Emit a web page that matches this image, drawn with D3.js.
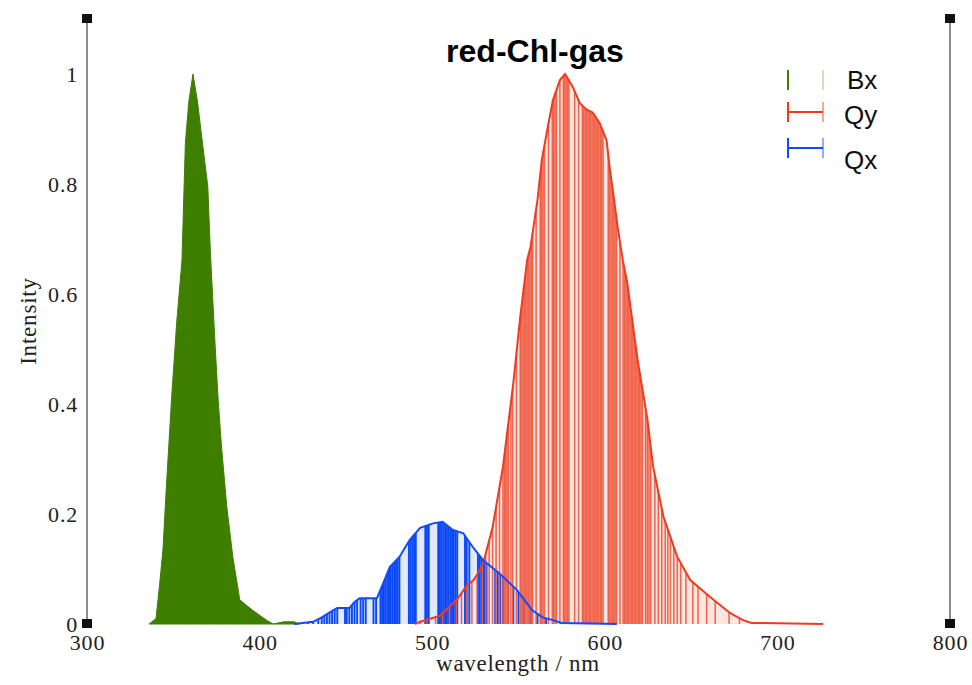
<!DOCTYPE html>
<html>
<head>
<meta charset="utf-8">
<script src="https://cdn.jsdelivr.net/npm/d3@7"></script>
<style>
  html, body { margin: 0; padding: 0; background: #fff; }
  svg { display: block; }
</style>
</head>
<body>
<svg id="chart" width="972" height="685"></svg>
<script>
// Tick values and labels
const wavelengthTicks = [300, 400, 500, 600, 700, 800];
const intensityTicks = [0, 0.2, 0.4, 0.6, 0.8, 1];
const intensityTickLabels = ["0", "0.2", "0.4", "0.6", "0.8", "1"];

// Band envelopes: [wavelength nm, intensity]
const bxEnvelope = [
  [336, 0], [340, 0.01], [342, 0.07], [344, 0.135], [346, 0.25], [349, 0.41],
  [352, 0.55], [355, 0.66], [357, 0.875], [359, 0.95], [361.4, 1.0], [364, 0.95],
  [366.5, 0.885], [370, 0.795], [371.5, 0.675], [374, 0.52], [376, 0.407],
  [378, 0.32], [381, 0.213], [384.5, 0.122], [388.5, 0.044], [392, 0.035],
  [396, 0.025], [404, 0.007], [408, 0], [414, 0.004], [420, 0.004], [423, 0]
];
const qyEnvelope = [
  [490, 0], [493, 0.004], [504.5, 0.015], [514.5, 0.045], [520, 0.07], [524, 0.08],
  [528, 0.1], [529.5, 0.11], [535, 0.176], [541, 0.286], [547, 0.438], [551, 0.558],
  [555, 0.662], [557, 0.686], [561, 0.771], [563.5, 0.844], [567, 0.904], [570, 0.953],
  [574, 0.989], [577, 1.0], [581.5, 0.976], [585.5, 0.947], [589.5, 0.935], [593, 0.93],
  [597, 0.911], [601, 0.88], [603, 0.825], [605, 0.78], [607.5, 0.72], [610.5, 0.66],
  [613, 0.62], [619, 0.48], [624.5, 0.376], [628, 0.286], [634, 0.195], [642, 0.122],
  [649.5, 0.08], [661, 0.049], [672.5, 0.02], [680, 0.007], [685, 0.002], [726.5, 0]
];
const qxEnvelope = [
  [420, 0], [431, 0.004], [436, 0.012], [442.5, 0.025], [445, 0.029], [452, 0.029],
  [455, 0.04], [458, 0.047], [468, 0.047], [470, 0.062], [475.5, 0.104], [481, 0.122],
  [487, 0.153], [493, 0.175], [500.5, 0.183], [506, 0.186], [512, 0.171], [518, 0.165],
  [523.5, 0.14], [529.5, 0.116], [539, 0.092], [549, 0.062], [558, 0.025], [564, 0.012],
  [570, 0.007], [575, 0.002], [607, 0]
];

// Stick transition wavelengths (nm)
const qySticks = [
  473, 480, 487, 493, 497, 502, 506, 510, 514, 517, 520, 523, 526, 529, 531, 533, 535, 537, 539,
  541, 541.8, 542.6, 543.4, 544.2, 545.6, 546.6, 548.8,
  551, 551.8, 552.6, 553.4, 554.2, 555, 555.8, 556.6, 557.4, 558.2, 560.2,
  562.6, 563.4, 564.2, 565, 567.4, 569.6, 570.4, 571.2, 572, 574,
  576, 576.8, 577.6, 578.4, 579.2, 582.5, 584.8,
  587, 587.8, 588.6, 589.4, 590.2, 591, 591.8, 592.6, 593.4, 594.2, 595, 595.8,
  596.6, 597.4, 598.2, 599,
  602, 602.8, 603.6, 604.4, 605.2, 606, 606.8, 608.8,
  610.6, 611.4, 612.2, 613, 613.8, 614.6, 615.4, 616.2, 617, 617.8, 618.6, 619.4,
  620.2, 621, 621.8, 623.6, 624.6, 625.6, 626.6,
  629, 631, 633, 635, 636.5, 638, 640, 642, 644, 647, 651, 654, 659, 664, 672, 678
];
const qxSticks = [
  428, 431, 434, 436, 437.5, 439, 440.5, 442, 443.5, 445, 449.5, 450.5, 452, 453.5,
  455, 456.5, 458.5, 460, 461.5, 466, 467.5, 470, 471, 472, 473, 474, 475, 476, 477,
  478, 479, 480, 481, 486.5, 487.5, 488.5, 489.5, 490.5, 496, 497, 498,
  503.5, 504.5, 505.5, 506.5, 507.5, 508.5, 509.5, 510.5, 511.5, 512.5, 513.5, 514.5,
  519, 520, 521.5, 526.5, 527.5, 528.5, 529.5, 530.5, 531.5, 536.5, 538, 539.5,
  541, 544, 547, 550, 553, 557, 561, 566
];

const legendLabels = ["Bx", "Qy", "Qx"];
const titleText = "red-Chl-gas";

const svg = d3.select("#chart");

const x = d3.scaleLinear().domain([300, 800]).range([87, 950]);
const y = d3.scaleLinear().domain([0, 1.1]).range([624, 19]);

const area = d3.area().x(d => x(d[0])).y0(y(0)).y1(d => y(d[1]));
const line = d3.line().x(d => x(d[0])).y(d => y(d[1]));

// Side frame lines with square end markers
[800, 300].forEach(v => {
  svg.append("line")
    .attr("x1", x(v)).attr("x2", x(v))
    .attr("y1", y(1.1)).attr("y2", y(0))
    .attr("stroke", "#8c8c8c").attr("stroke-width", 2);
  [1.1, 0].forEach(t => {
    svg.append("rect")
      .attr("x", x(v) - 5).attr("y", y(t) - 5)
      .attr("width", 10).attr("height", 9)
      .attr("fill", "#111");
  });
});

// Bx: solid filled band
svg.append("path").datum(bxEnvelope)
  .attr("d", area)
  .attr("fill", "#3e7f02")
  .attr("stroke", "#3e7f02").attr("stroke-width", 1);

// Clip regions for the stick spectra
const defs = svg.append("defs");
defs.append("clipPath").attr("id", "clip-qy")
  .append("path").datum(qyEnvelope).attr("d", area);
defs.append("clipPath").attr("id", "clip-qx")
  .append("path").datum(qxEnvelope).attr("d", area);

// Light fills under each band
svg.append("path").datum(qyEnvelope)
  .attr("d", area).attr("fill", "#fde6e1");
svg.append("path").datum(qxEnvelope)
  .attr("d", area).attr("fill", "#dfe7ff").attr("fill-opacity", 0.9);

// Stick lines, clipped to their envelopes
svg.append("g").attr("clip-path", "url(#clip-qx)")
  .selectAll("line").data(qxSticks).join("line")
  .attr("x1", d => x(d)).attr("x2", d => x(d))
  .attr("y1", y(0)).attr("y2", y(1.1))
  .attr("stroke", "#0b48f6").attr("stroke-width", 1.9);

svg.append("g").attr("clip-path", "url(#clip-qy)")
  .selectAll("line").data(qySticks).join("line")
  .attr("x1", d => x(d)).attr("x2", d => x(d))
  .attr("y1", y(0)).attr("y2", y(1.1))
  .attr("stroke", "#ef5a40").attr("stroke-width", 1.55).attr("stroke-opacity", 0.92);

// Envelope outlines
svg.append("path").datum(qyEnvelope)
  .attr("d", line).attr("fill", "none")
  .attr("stroke", "#ee3b20").attr("stroke-width", 2);
svg.append("path").datum(qxEnvelope)
  .attr("d", line).attr("fill", "none")
  .attr("stroke", "#1149ff").attr("stroke-width", 2);

// Axes (labels only)
const tickFont = "'Liberation Serif', 'DejaVu Serif', serif";
const xAxis = svg.append("g")
  .attr("transform", `translate(0,${y(0)})`)
  .call(d3.axisBottom(x).tickValues(wavelengthTicks).tickSize(0).tickPadding(10).tickFormat(d3.format("d")));
const yAxis = svg.append("g")
  .attr("transform", `translate(${x(300)},0)`)
  .call(d3.axisLeft(y).tickValues(intensityTicks).tickSize(0).tickPadding(9)
    .tickFormat((d, i) => intensityTickLabels[i]));
[xAxis, yAxis].forEach(g => {
  g.select(".domain").remove();
  g.selectAll("text")
    .attr("font-family", tickFont).attr("font-size", 22).attr("fill", "#222")
    .attr("letter-spacing", 0.8);
});

// Axis titles
svg.append("text")
  .attr("x", 518).attr("y", 671)
  .attr("text-anchor", "middle")
  .attr("font-family", tickFont).attr("font-size", 23).attr("fill", "#222")
  .attr("letter-spacing", 0.7)
  .text("wavelength / nm");
svg.append("text")
  .attr("transform", "translate(36,321) rotate(-90)")
  .attr("text-anchor", "middle")
  .attr("font-family", tickFont).attr("font-size", 23).attr("fill", "#222")
  .attr("letter-spacing", 0.8)
  .text("Intensity");

// Title
svg.append("text")
  .attr("x", 535).attr("y", 62)
  .attr("text-anchor", "middle")
  .attr("font-family", "'Liberation Sans', Arial, sans-serif")
  .attr("font-weight", "bold").attr("font-size", 32).attr("fill", "#000")
  .text(titleText);

// Legend
const legendColors = ["#3e7f02", "#ee3b20", "#1149ff"];
const legendY = [80, 112, 148];
const legend = svg.append("g");
legendLabels.forEach((name, i) => {
  const g = legend.append("g").attr("transform", `translate(0,${legendY[i]})`);
  const c = legendColors[i];
  if (i > 0) {
    g.append("line").attr("x1", 788).attr("x2", 823).attr("y1", 0).attr("y2", 0)
      .attr("stroke", c).attr("stroke-width", 2);
  }
  g.append("line").attr("x1", 788).attr("x2", 788).attr("y1", -10).attr("y2", 10)
    .attr("stroke", c).attr("stroke-width", 2);
  g.append("line").attr("x1", 823).attr("x2", 823).attr("y1", -10).attr("y2", 10)
    .attr("stroke", c).attr("stroke-width", 2).attr("stroke-opacity", i > 0 ? 0.45 : 0.25);
  g.append("text")
    .attr("x", i === 0 ? 847 : 844).attr("y", i === 0 ? 9 : (i === 1 ? 12 : 21))
    .attr("font-family", "'Liberation Sans', Arial, sans-serif")
    .attr("font-size", 26).attr("fill", "#111")
    .text(name);
});
</script>
</body>
</html>
